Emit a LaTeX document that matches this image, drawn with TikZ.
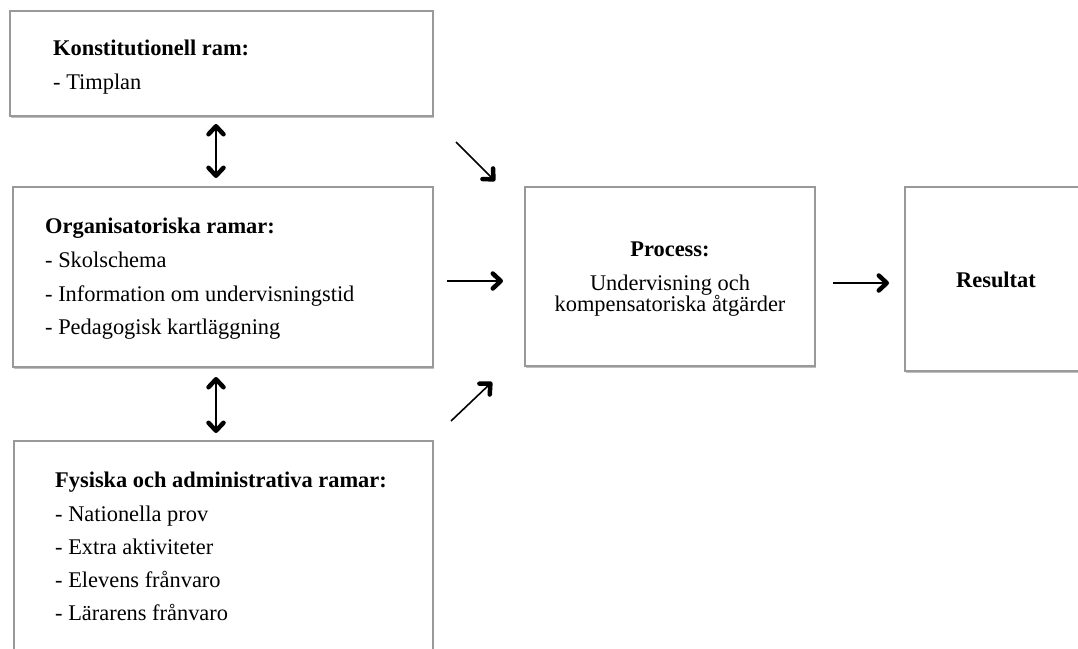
\documentclass[tikz,border=0pt]{standalone}
\usepackage{fontspec}
\setmainfont{Liberation Serif}
\usetikzlibrary{arrows.meta,shadows}
\tikzset{
  box/.style={draw=black!40, line width=1.3pt, fill=white,
    drop shadow={shadow xshift=1.3pt, shadow yshift=-2.2pt, opacity=0.45, fill=black!55}},
  txt/.style={anchor=base west, inner sep=0pt, font=\fontsize{22.4}{26}\selectfont},
  ctxt/.style={anchor=base, inner sep=0pt, font=\fontsize{22.4}{26}\selectfont},
  conn/.style={line width=1.6pt, -{Straight Barb[length=8pt, width=15pt, line width=4.5pt, round]}},
  dconn/.style={line width=1.6pt, {Straight Barb[length=8pt, width=15pt, line width=4.5pt, round]}-{Straight Barb[length=8pt, width=15pt, line width=4.5pt, round]}}
}
\begin{document}
\begin{tikzpicture}[x=1pt, y=-1pt]
\useasboundingbox (0,0) rectangle (1078,648);
\clip (0,0) rectangle (1078,648);
\fill[white] (0,0) rectangle (1078,648);
% boxes
\path[box] (10,11) rectangle (433,116);
\path[box] (13,187) rectangle (433,367);
\path[box] (14,441) rectangle (433,680);
\path[box] (525,187) rectangle (815,366);
\path[box] (905,187) rectangle (1100,371);
% texts box 1
\node[txt, font=\fontsize{22.4}{26}\selectfont\bfseries] (t11) at (53,55) {Konstitutionell ram:};
\node[txt] (t12) at (53,89) {- Timplan};
% box 2
\node[txt, font=\fontsize{22.4}{26}\selectfont\bfseries] (t21) at (45,233) {Organisatoriska ramar:};
\node[txt] (t22) at (45,267) {- Skolschema};
\node[txt] (t23) at (45,301) {- Information om undervisningstid};
\node[txt] (t24) at (45,334) {- Pedagogisk kartläggning};
% box 3
\node[txt, font=\fontsize{22.4}{26}\selectfont\bfseries] (t31) at (55,487) {Fysiska och administrativa ramar:};
\node[txt] (t32) at (55,521) {- Nationella prov};
\node[txt] (t33) at (55,554) {- Extra aktiviteter};
\node[txt] (t34) at (55,587) {- Elevens frånvaro};
\node[txt] (t35) at (55,620) {- Lärarens frånvaro};
% process
\node[ctxt, font=\fontsize{22.4}{26}\selectfont\bfseries] (p1) at (670,256) {Process:};
\node[ctxt] (p2) at (670,290) {Undervisning och};
\node[ctxt] (p3) at (670,311) {kompensatoriska åtgärder};
% result
\node[ctxt, font=\fontsize{22.4}{26}\selectfont\bfseries] (r1) at (996,287) {Resultat};
% connector endpoints
\coordinate (d1a) at (216,124);
\coordinate (d1b) at (216,178);
\coordinate (d2a) at (216,377);
\coordinate (d2b) at (216,433);
\coordinate (a1s) at (456,142);
\coordinate (a1e) at (495,181);
\coordinate (a2s) at (447,281);
\coordinate (a2e) at (503,281);
\coordinate (a3s) at (451,421);
\coordinate (a3e) at (492,382);
\coordinate (a4s) at (833,283);
\coordinate (a4e) at (889,283);
\draw[dconn] (d1a) -- (d1b);
\draw[dconn] (d2a) -- (d2b);
\draw[conn] (a1s) -- (a1e);
\draw[conn] (a2s) -- (a2e);
\draw[conn] (a3s) -- (a3e);
\draw[conn] (a4s) -- (a4e);
\end{tikzpicture}
\end{document}
